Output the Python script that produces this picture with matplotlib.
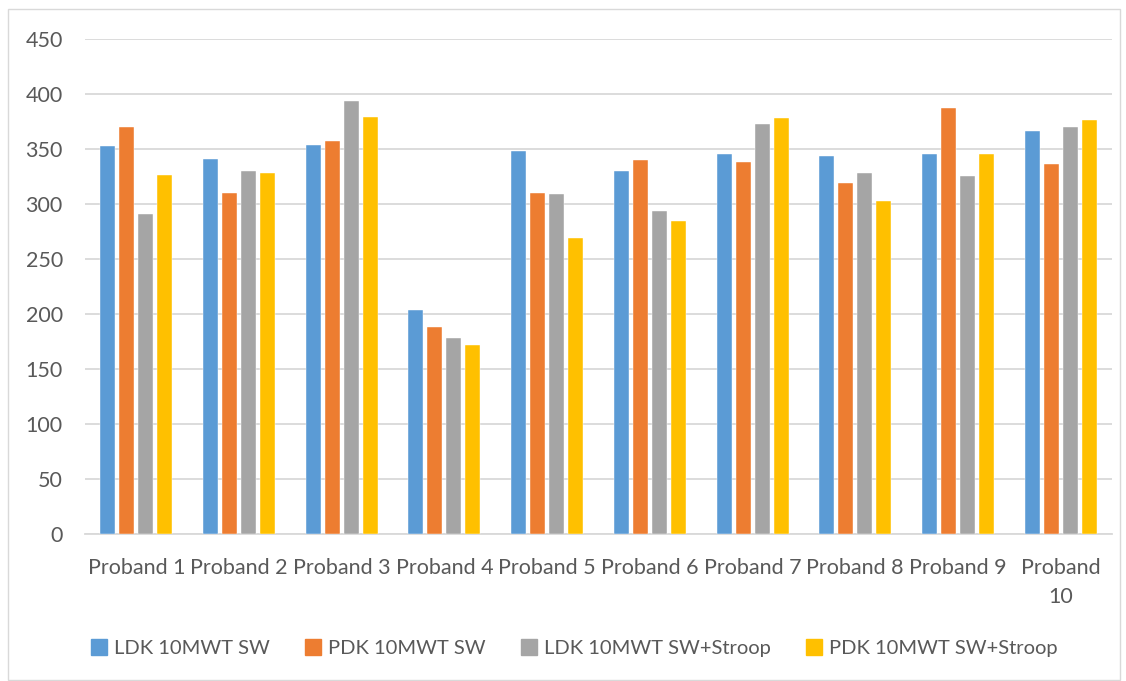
import matplotlib.pyplot as plt
import matplotlib.patches as mpatches
import numpy as np

plt.rcParams['font.family'] = ['Lato', 'DejaVu Sans']

probanden = ['Proband 1', 'Proband 2', 'Proband 3', 'Proband 4', 'Proband 5',
             'Proband 6', 'Proband 7', 'Proband 8', 'Proband 9', 'Proband\n10']
serien = ['LDK 10MWT SW', 'PDK 10MWT SW', 'LDK 10MWT SW+Stroop', 'PDK 10MWT SW+Stroop']
ldk_sw = [353, 341, 354, 204, 348, 330, 345, 344, 345, 366]
pdk_sw = [370, 310, 357, 188, 310, 340, 338, 319, 387, 336]
ldk_stroop = [291, 330, 394, 178, 309, 294, 373, 328, 325, 370]
pdk_stroop = [326, 328, 379, 172, 269, 285, 378, 303, 345, 376]
farben = ['#5B9BD5', '#ED7D31', '#A5A5A5', '#FFC000']

werte = [ldk_sw, pdk_sw, ldk_stroop, pdk_stroop]
grau = '#595959'
schrift = 15.5

fig = plt.figure(figsize=(11.26, 6.81), dpi=100)
ax = fig.add_axes([85 / 1126, 1 - 534 / 681, 1027 / 1126, 495 / 681])

x = np.arange(len(probanden))
breite = 0.146
schritt = 0.185
for i, (reihe, farbe) in enumerate(zip(werte, farben)):
    ax.bar(x + (i - 1.5) * schritt, reihe, breite, color=farbe,
           edgecolor='white', linewidth=0.3, zorder=3)

ax.set_xlim(-0.5, len(probanden) - 0.5)
ax.set_ylim(0, 450)
ax.set_yticks(range(0, 451, 50))
ax.yaxis.grid(True, color='#D9D9D9', linewidth=1.3, zorder=0)
ax.set_xticks(x)
ax.set_xticklabels(probanden, linespacing=1.6)
ax.tick_params(axis='both', length=0, labelsize=schrift, colors=grau)
ax.tick_params(axis='x', pad=17)
ax.tick_params(axis='y', pad=16)
for seite in ['left', 'right', 'top']:
    ax.spines[seite].set_visible(False)
ax.spines['bottom'].set_color('#D9D9D9')
ax.spines['bottom'].set_linewidth(1.3)

griffe = [mpatches.Patch(color=f, label=s) for f, s in zip(farben, serien)]
fig.legend(handles=griffe, loc='center', bbox_to_anchor=(0.51, 1 - 648 / 681),
           ncol=4, frameon=False, fontsize=14.5, labelcolor=grau,
           handlelength=0.8, handleheight=0.8, handletextpad=0.35,
           columnspacing=1.75)

rahmen = mpatches.Rectangle((8 / 1126, 0.002), 1112 / 1126, 1 - 10 / 681,
                            transform=fig.transFigure, fill=False,
                            edgecolor='#D9D9D9', linewidth=1)
fig.patches.append(rahmen)

fig.savefig('out.png', dpi=100)
